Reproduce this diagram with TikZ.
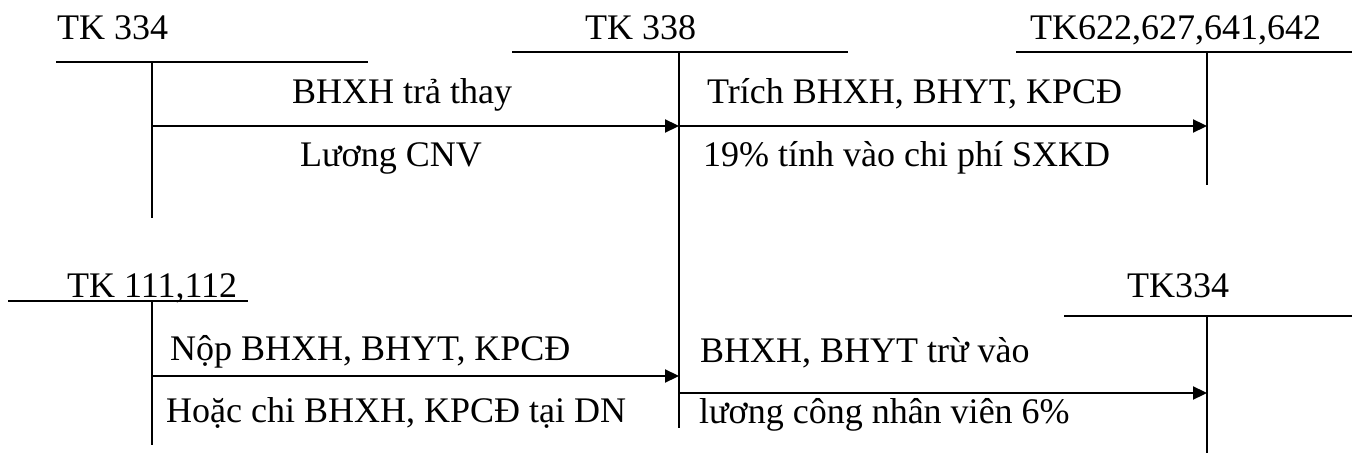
\documentclass[tikz,border=0pt]{standalone}
\usepackage{fontspec}
\setmainfont{Liberation Serif}
\usetikzlibrary{arrows.meta}
\begin{document}
\begin{tikzpicture}[x=1pt,y=-1pt,
  lbl/.style={anchor=base west,inner sep=0pt,font=\fontsize{36}{40}\selectfont},
  acct/.style={line width=2.2pt},
  flow/.style={line width=2.2pt,-{Triangle[length=14pt,width=13pt]}}]
\useasboundingbox (0,0) rectangle (1359,454);
% T-account titles
\node[lbl] (t334a) at (57,40) {TK 334};
\node[lbl] (t338) at (585,40) {TK 338};
\node[lbl] (t622) at (1030,40) {TK622,627,641,642};
\node[lbl] (t111) at (67,297) {TK 111,112};
\node[lbl] (t334b) at (1127,297) {TK334};
% T-account lines
\draw[acct] (56,62) -- (368,62);
\draw[acct] (152,62) -- (152,218);
\draw[acct] (512,52) -- (848,52);
\draw[acct] (679,52) -- (679,428);
\draw[acct] (1016,52) -- (1352,52);
\draw[acct] (1207,52) -- (1207,185);
\draw[acct] (8,301) -- (248,301);
\draw[acct] (152,301) -- (152,445);
\draw[acct] (1064,316) -- (1352,316);
\draw[acct] (1207,316) -- (1207,453);
% connector end points on the account lines
\coordinate (a1s) at (152,126);
\coordinate (a1e) at (679,126);
\coordinate (a2s) at (679,126);
\coordinate (a2e) at (1207,126);
\coordinate (a3s) at (152,376);
\coordinate (a3e) at (679,376);
\coordinate (a4s) at (679,393);
\coordinate (a4e) at (1207,393);
\draw[flow] (a1s) -- (a1e);
\draw[flow] (a2s) -- (a2e);
\draw[flow] (a3s) -- (a3e);
\draw[flow] (a4s) -- (a4e);
% labels
\node[lbl] (l1a) at (292,104) {BHXH trả thay};
\node[lbl] (l1b) at (300,167) {Lương CNV};
\node[lbl] (l2a) at (707,104) {Trích BHXH, BHYT, KPCĐ};
\node[lbl] (l2b) at (703,167) {19\% tính vào chi phí SXKD};
\node[lbl] (l3a) at (170,360) {Nộp BHXH, BHYT, KPCĐ};
\node[lbl] (l3b) at (166,422) {Hoặc chi BHXH, KPCĐ tại DN};
\node[lbl] (l4a) at (700,362) {BHXH, BHYT trừ vào};
\node[lbl] (l4b) at (699,423) {lương công nhân viên 6\%};
\end{tikzpicture}
\end{document}
